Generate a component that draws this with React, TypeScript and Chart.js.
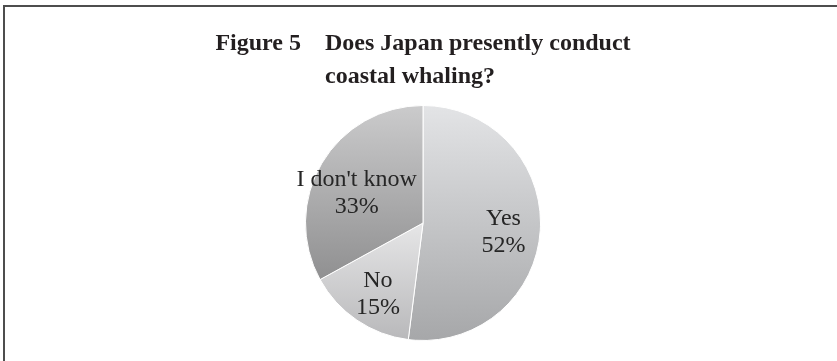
import React, { useEffect, useRef } from "react";
import { Chart, registerables } from "chart.js";

Chart.register(...registerables);

const categories = ["Yes", "No", "I don't know"];
const percentValues = [52, 15, 33];
const valueLabels = ["52%", "15%", "33%"];
const titleLines = ["Figure 5\u3000Does Japan presently conduct", "coastal whaling?"];

// gradient stops (top colour, bottom colour) per slice
const gradientTops = ["#e3e4e6", "#e6e6e7", "#cbcbcc"];
const gradientBottoms = ["#a6a7a9", "#b8b8ba", "#8b8b8c"];

export default function App() {
  const canvasRef = useRef<HTMLCanvasElement | null>(null);

  useEffect(() => {
    document.body.style.margin = "0";
    const canvas = canvasRef.current;
    if (!canvas) return;

    const titlePlugin = {
      id: "customTitle",
      afterDraw(chart: any) {
        const ctx = chart.ctx;
        ctx.save();
        ctx.fillStyle = "#231f20";
        ctx.font = "bold 24px 'Liberation Serif', serif";
        ctx.textBaseline = "alphabetic";
        ctx.textAlign = "left";
        const w1 = ctx.measureText(titleLines[0]).width;
        const x1 = 423 - w1 / 2;
        ctx.fillText(titleLines[0], x1, 50);
        const prefix = titleLines[0].split("\u3000")[0] + "\u3000";
        const indent = ctx.measureText(prefix).width;
        ctx.fillText(titleLines[1], x1 + indent, 83);
        ctx.restore();
      },
    };

    const labelPlugin = {
      id: "sliceLabels",
      afterDatasetsDraw(chart: any) {
        const ctx = chart.ctx;
        const meta = chart.getDatasetMeta(0);
        const fracs = [0.69, 0.715, 0.62];
        const shifts = [0.056, -0.03, -0.108];
        ctx.save();
        ctx.fillStyle = "#262626";
        ctx.font = "24px 'Liberation Serif', serif";
        ctx.textAlign = "center";
        ctx.textBaseline = "middle";
        meta.data.forEach((arc: any, i: number) => {
          const p = arc.getProps(["x", "y", "startAngle", "endAngle", "outerRadius"], true);
          const mid = (p.startAngle + p.endAngle) / 2 + shifts[i];
          const r = p.outerRadius * fracs[i];
          const cx = p.x + Math.cos(mid) * r;
          const cy = p.y + Math.sin(mid) * r;
          ctx.fillText(categories[i], cx, cy - 13.5);
          ctx.fillText(valueLabels[i], cx, cy + 13.5);
        });
        ctx.restore();
      },
    };

    const chart = new Chart(canvas, {
      type: "pie",
      data: {
        labels: categories,
        datasets: [
          {
            data: percentValues,
            borderColor: "#ffffff",
            borderWidth: 1,
            backgroundColor: (c: any) => {
              const chartArea = c.chart.chartArea;
              if (!chartArea) return gradientTops[c.dataIndex];
              const i = c.dataIndex;
              const top = chartArea.top;
              const bottom = chartArea.bottom;
              const mid = (top + bottom) / 2;
              let y0 = top;
              let y1 = bottom;
              if (i === 1) { y0 = mid; y1 = bottom; }
              if (i === 2) { y0 = top; y1 = mid + (bottom - top) * 0.3; }
              const g = c.chart.ctx.createLinearGradient(0, y0, 0, y1);
              g.addColorStop(0, gradientTops[i]);
              g.addColorStop(1, gradientBottoms[i]);
              return g;
            },
          },
        ],
      },
      options: {
        animation: false,
        responsive: false,
        maintainAspectRatio: false,
        layout: { padding: { top: 105, bottom: 20, left: 9, right: 0 } },
        plugins: {
          legend: { display: false },
          tooltip: { enabled: false },
          title: { display: false },
        },
      },
      plugins: [titlePlugin, labelPlugin],
    });

    return () => chart.destroy();
  }, []);

  return (
    <div style={{ position: "relative", width: 837, height: 361, background: "#ffffff", overflow: "hidden" }}>
      <canvas ref={canvasRef} width={837} height={361} style={{ display: "block" }} />
      <div
        style={{
          position: "absolute",
          left: 3,
          top: 5,
          width: 900,
          height: 400,
          borderTop: "2px solid #4d4d4d",
          borderLeft: "2px solid #4d4d4d",
          pointerEvents: "none",
        }}
      />
    </div>
  );
}
